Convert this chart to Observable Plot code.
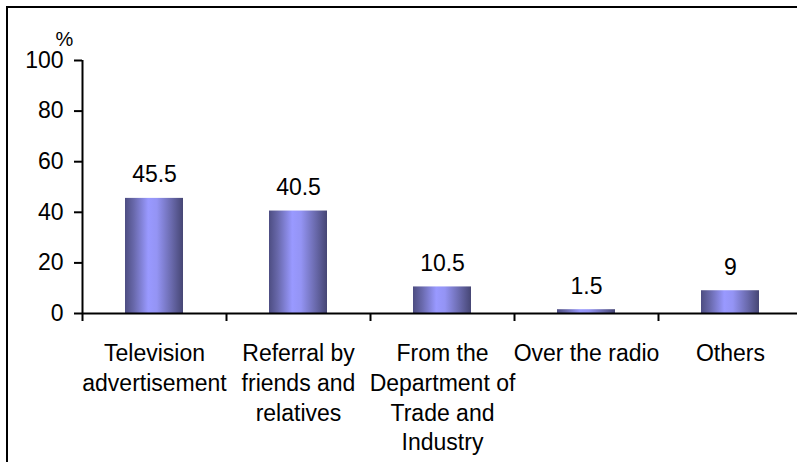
<!DOCTYPE html>
<html>
<head>
<meta charset="utf-8">
<script src="https://cdn.jsdelivr.net/npm/d3@7"></script>
<script src="https://cdn.jsdelivr.net/npm/@observablehq/plot@0.6"></script>
<style>
  html, body { margin: 0; padding: 0; background: #fff; }
  #wrap { position: relative; width: 797px; height: 462px; overflow: hidden; }
  #border { position: absolute; left: 6px; top: 6px; width: 1000px; height: 1000px;
            border: 2.5px solid #000; box-sizing: border-box; }
  #chart { position: absolute; left: 0; top: 0; }
</style>
</head>
<body>
<div id="wrap"><div id="border"></div><div id="chart"></div></div>
<script>
// How respondents heard about the programme (%)
const categories = [
  "Television\nadvertisement",
  "Referral by\nfriends and\nrelatives",
  "From the\nDepartment of\nTrade and\nIndustry",
  "Over the radio",
  "Others"
];
const values = [45.5, 40.5, 10.5, 1.5, 9];
const yTicks = [0, 20, 40, 60, 80, 100];

const data = categories.map((c, i) => ({category: c, value: values[i]}));

// Horizontal shading that gives each bar a rounded, cylinder look
const gradientDefs = () => {
  const defs = d3.create("svg:defs");
  const g = defs.append("linearGradient")
    .attr("id", "bar-grad")
    .attr("x1", "0").attr("x2", "1").attr("y1", "0").attr("y2", "0");
  [
    [0, "#4d4d82"], [0.15, "#6868aa"], [0.4, "#9999ff"],
    [0.55, "#9494f4"], [0.8, "#6a6aad"], [1, "#464674"]
  ].forEach(([o, c]) => g.append("stop").attr("offset", o).attr("stop-color", c));
  return defs.node();
};

const step = (802 - 82) / categories.length;

const chart = Plot.plot({
  width: 797,
  height: 462,
  marginLeft: 82,
  marginRight: 0,
  marginTop: 60,
  marginBottom: 149,
  style: {fontFamily: "'Liberation Sans', Arial, sans-serif", color: "#000", background: "transparent"},
  x: {domain: categories, range: [82, 802], paddingInner: 0.6, paddingOuter: 0.3, axis: null},
  y: {domain: [0, 100], axis: null},
  marks: [
    gradientDefs,
    Plot.barY(data, {x: "category", y: "value", fill: "url(#bar-grad)"}),
    // value labels above the bars
    Plot.text(data, {x: "category", y: "value", text: d => String(d.value),
      lineAnchor: "bottom", dy: -16, fontSize: 23, fill: "#000"}),
    // y axis
    Plot.axisY({ticks: yTicks, tickSize: 8, tickPadding: 11, fontSize: 23,
      tickFormat: d => String(d), label: null, strokeWidth: 2, stroke: "#000", fill: "#000"}),
    Plot.ruleX([categories[0]], {x: d => d, y1: 0, y2: 100, dx: -step / 2, strokeWidth: 2, stroke: "#000"}),
    Plot.text(["%"], {frameAnchor: "top-left", textAnchor: "middle", dx: -18, dy: -15,
      lineAnchor: "bottom", fontSize: 20, fill: "#000"}),
    // x axis line and category boundary ticks
    Plot.ruleY([0], {strokeWidth: 2, stroke: "#000"}),
    Plot.axisX({tickSize: 8, tickFormat: () => "", dx: -step / 2, strokeWidth: 2, stroke: "#000", label: null}),
    // category labels
    Plot.text(categories, {x: d => d, text: d => d, frameAnchor: "bottom", lineAnchor: "top",
      dy: 26, fontSize: 23, lineHeight: 1.3, fill: "#000"})
  ]
});

document.getElementById("chart").appendChild(chart);
</script>
</body>
</html>
